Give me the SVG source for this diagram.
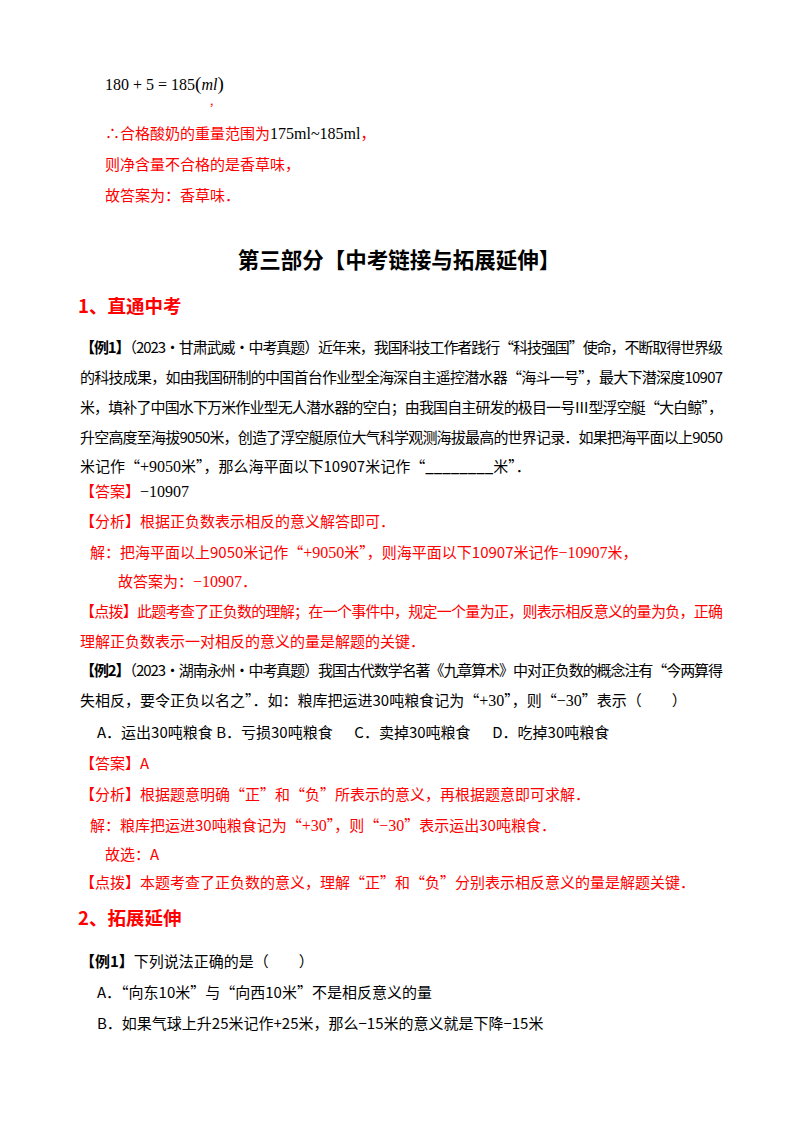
<svg xmlns="http://www.w3.org/2000/svg" width="800" height="1132" viewBox="0 0 800 1132">
<style>
text{font-family:"Noto Sans CJK SC","Noto Sans",sans-serif;font-size:15px;fill:#000}
.r{fill:#f00}
.b{font-weight:bold}
.m{font-family:"Liberation Serif",serif;font-size:16px}
.i{font-style:italic}
.t{font-size:21.5px;font-weight:bold}
.h{font-size:18.5px;font-weight:bold}
</style>
<rect width="800" height="1132" fill="#fff"/>
<text x="105" y="90"><tspan class="m">180 + 5 = 185</tspan><tspan class="m" style="font-size:19px">(</tspan><tspan class="m i">ml</tspan><tspan class="m" style="font-size:19px">)</tspan></text>
<text x="210" y="105" class="r" style="font-size:12px">,</text>
<text x="105" y="139" class="r">∴合格酸奶的重量范围为<tspan class="m" fill="#000">175ml~185ml</tspan>，</text>
<text x="105" y="170" class="r">则净含量不合格的是香草味，</text>
<text x="105" y="201" class="r">故答案为：香草味．</text>
<text x="399" y="268" text-anchor="middle" class="t">第三部分【中考链接与拓展延伸】</text>
<text x="78" y="313" class="r h">1、直通中考</text>
<text x="80" y="353" textLength="643" lengthAdjust="spacing"><tspan class="b">【例1】</tspan>（2023·甘肃武威·中考真题）近年来，我国科技工作者践行“科技强国”使命，不断取得世界级</text>
<text x="80" y="383" textLength="643" lengthAdjust="spacing">的科技成果，如由我国研制的中国首台作业型全海深自主遥控潜水器“海斗一号”，最大下潜深度10907</text>
<text x="80" y="413" textLength="643" lengthAdjust="spacing">米，填补了中国水下万米作业型无人潜水器的空白；由我国自主研发的极目一号Ⅲ型浮空艇“大白鲸”，</text>
<text x="80" y="443" textLength="643" lengthAdjust="spacing">升空高度至海拔9050米，创造了浮空艇原位大气科学观测海拔最高的世界记录．如果把海平面以上9050</text>
<text x="80" y="472">米记作“<tspan class="m">+9050</tspan>米”，那么海平面以下10907米记作“<tspan class="b">________</tspan>米”．</text>
<text x="80" y="497" class="r">【答案】<tspan class="m" fill="#000">−10907</tspan></text>
<text x="80" y="527" class="r">【分析】根据正负数表示相反的意义解答即可．</text>
<text x="90" y="558" class="r">解：把海平面以上9050米记作“<tspan class="m">+9050</tspan>米”，则海平面以下10907米记作<tspan class="m">−10907</tspan>米，</text>
<text x="118" y="587" class="r">故答案为：<tspan class="m">−10907</tspan>．</text>
<text x="80" y="617" class="r" textLength="643" lengthAdjust="spacing">【点拨】此题考查了正负数的理解；在一个事件中，规定一个量为正，则表示相反意义的量为负，正确</text>
<text x="80" y="647" class="r">理解正负数表示一对相反的意义的量是解题的关键．</text>
<text x="80" y="676" textLength="643" lengthAdjust="spacing"><tspan class="b">【例2】</tspan>（2023·湖南永州·中考真题）我国古代数学名著《九章算术》中对正负数的概念注有“今两算得</text>
<text x="80" y="706">失相反，要令正负以名之”．如：粮库把运进30吨粮食记为“<tspan class="m">+30</tspan>”，则“<tspan class="m">−30</tspan>”表示（　　）</text>
<text x="97" y="738">A．运出30吨粮食  B．亏损30吨粮食 　  C．卖掉30吨粮食 　  D．吃掉30吨粮食</text>
<text x="80" y="769" class="r">【答案】A</text>
<text x="80" y="800" class="r">【分析】根据题意明确“正”和“负”所表示的意义，再根据题意即可求解．</text>
<text x="90" y="831" class="r">解：粮库把运进30吨粮食记为“<tspan class="m">+30</tspan>”，则“<tspan class="m">−30</tspan>”表示运出30吨粮食．</text>
<text x="105" y="860" class="r">故选：A</text>
<text x="80" y="888" class="r">【点拨】本题考查了正负数的意义，理解“正”和“负”分别表示相反意义的量是解题关键．</text>
<text x="78" y="925" class="r h">2、拓展延伸</text>
<text x="80" y="967"><tspan class="b">【例1】</tspan>下列说法正确的是（　　）</text>
<text x="97" y="998">A．“向东10米”与“向西10米”不是相反意义的量</text>
<text x="97" y="1029">B．如果气球上升25米记作+25米，那么−15米的意义就是下降−15米</text>
</svg>
